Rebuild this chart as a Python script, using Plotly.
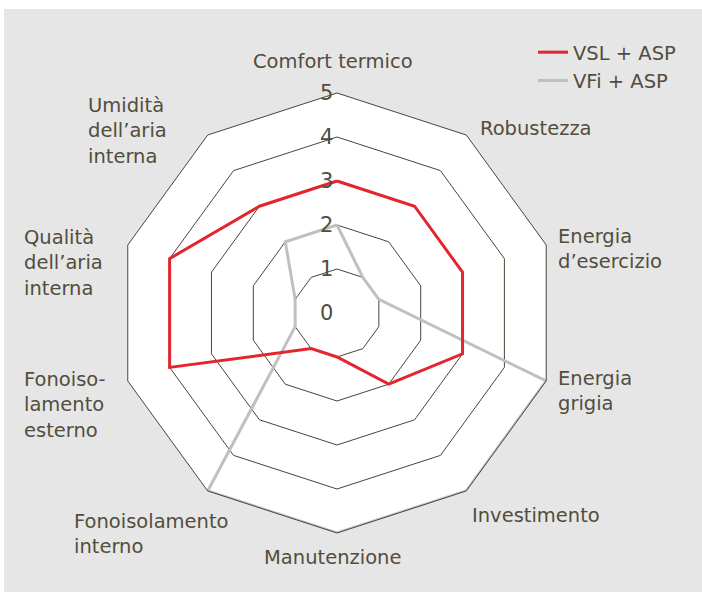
import plotly.graph_objects as go

# --------------------------------------------------
# Data
# --------------------------------------------------
categories = [
    "Comfort termico", "Robustezza", "Energia d'esercizio", "Energia grigia",
    "Investimento", "Manutenzione", "Fonoisolamento interno",
    "Fonoisolamento esterno", "Qualità dell'aria interna", "Umidità dell'aria interna",
]
labels = [
    "Comfort termico", "Robustezza", "Energia<br>d’esercizio", "Energia<br>grigia",
    "Investimento", "Manutenzione", "Fonoisolamento<br>interno",
    "Fonoiso-<br>lamento<br>esterno", "Qualità<br>dell’aria<br>interna",
    "Umidità<br>dell’aria<br>interna",
]
vsl_asp = [3, 3, 3, 3, 2, 1, 1, 4, 4, 3]
vfi_asp = [2, 1, 1, 5, 5, 5, 5, 1, 1, 2]
series_names = ["VSL + ASP", "VFi + ASP"]

# --------------------------------------------------
# Layout helpers (pixel -> paper)
# --------------------------------------------------
W, H = 702, 592
ML, MT, SIDE = 117, 93, 440
MB = H - MT - SIDE
MR = W - ML - SIDE


def px(x, y):
    return (x - ML) / SIDE, (H - MB - y) / SIDE


TEXT = "#524d3d"
FONT = "DejaVu Sans"

# label anchor positions in pixels: (x, y, xanchor)
label_pos = [
    (333, 62, "center"), (478, 128, "left"), (556, 249, "left"),
    (556, 391, "left"), (470, 515, "left"), (332, 557, "center"),
    (72, 534, "left"), (22, 405, "left"), (22, 263, "left"), (86, 131, "left"),
]

fig = go.Figure()

fig.add_trace(go.Scatterpolar(
    r=vfi_asp + vfi_asp[:1],
    theta=categories + categories[:1],
    mode="lines",
    name=series_names[1],
    line=dict(color="#c0c0c0", width=3),
    legendrank=2,
))

fig.add_trace(go.Scatterpolar(
    r=vsl_asp + vsl_asp[:1],
    theta=categories + categories[:1],
    mode="lines",
    name=series_names[0],
    line=dict(color="#e3262d", width=3),
    legendrank=1,
))

annotations = []
for text, (x, y, xa) in zip(labels, label_pos):
    ax, ay = px(x, y)
    annotations.append(dict(
        x=ax, y=ay, xref="paper", yref="paper", text=text,
        showarrow=False, xanchor=xa, yanchor="middle", align="left",
        font=dict(family=FONT, size=19.5, color=TEXT),
    ))

bx0, by0 = px(4, H + 5)
bx1, by1 = px(W + 5, 9)

fig.update_layout(
    width=W, height=H,
    margin=dict(l=ML, r=MR, t=MT, b=MB),
    paper_bgcolor="white",
    font=dict(family=FONT, color=TEXT),
    shapes=[dict(
        type="rect", xref="paper", yref="paper", layer="below",
        x0=bx0, y0=by0, x1=bx1, y1=by1,
        fillcolor="#e6e6e6", line=dict(width=0),
    )],
    annotations=annotations,
    polar=dict(
        domain=dict(x=[0, 1], y=[0, 1]),
        bgcolor="white",
        gridshape="linear",
        angularaxis=dict(
            rotation=90, direction="clockwise",
            showgrid=False, showticklabels=False, ticks="",
            showline=True, linecolor="#4a4535", linewidth=1,
        ),
        radialaxis=dict(
            range=[0, 5], dtick=1, angle=90, side="counterclockwise",
            tickangle=90, showline=False, ticks="",
            gridcolor="#4a4535", gridwidth=1,
            tickfont=dict(family=FONT, size=21, color=TEXT),
        ),
    ),
    legend=dict(
        x=px(533, 0)[0], y=px(0, 33)[1], xanchor="left", yanchor="top",
        bgcolor="rgba(0,0,0,0)",
        font=dict(family=FONT, size=19.5, color=TEXT),
        itemwidth=30, tracegroupgap=0,
    ),
)

fig.write_html(
    "out.html",
    config={"displayModeBar": False},
    post_script="document.body.style.margin='0px';",
)
